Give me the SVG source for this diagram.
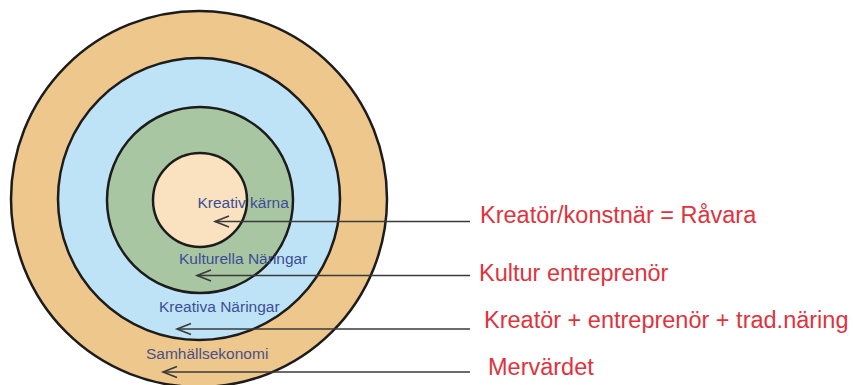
<svg xmlns="http://www.w3.org/2000/svg" width="853" height="385" viewBox="0 0 853 385">
  <style>
    .ring { stroke: #1c1c1c; stroke-width: 2.5; }
    .lbl { font-family: "Liberation Sans", Arial, sans-serif; font-size: 15.5px; fill: #3c4e96; }
    .note { font-family: "Liberation Sans", Arial, sans-serif; font-size: 23.5px; fill: #e0333d; }
    .lead { fill: none; stroke: #3a3a3a; stroke-width: 1.5; marker-end: url(#chev); }
  </style>
  <defs>
    <marker id="chev" markerUnits="userSpaceOnUse" markerWidth="18" markerHeight="14" refX="15" refY="7" orient="auto" viewBox="0 0 18 14">
      <path d="M1,1.5 L15,7 L1,12.5" fill="none" stroke="#3a3a3a" stroke-width="1.6"/>
    </marker>
  </defs>
  <rect width="853" height="385" fill="#ffffff"/>

  <!-- concentric layers, outermost first -->
  <g id="samhallsekonomi">
    <circle class="ring" cx="199" cy="199" r="188" fill="#eec78c"/>
  </g>
  <g id="kreativa-naringar">
    <circle class="ring" cx="199" cy="199" r="141" fill="#bfe3f6"/>
  </g>
  <g id="kulturella-naringar">
    <circle class="ring" cx="200" cy="200" r="93" fill="#a9c6a3"/>
  </g>
  <g id="kreativ-karna">
    <circle class="ring" cx="200" cy="200" r="47" fill="#fae2c1"/>
  </g>

  <!-- leader lines from each note back into its layer -->
  <g id="connectors">
    <path class="lead" d="M470,221.5 H215"/>
    <path class="lead" d="M470,275.5 H197"/>
    <path class="lead" d="M470,329 H177"/>
    <path class="lead" d="M470,372 H163"/>
  </g>

  <!-- layer names -->
  <g id="layer-labels">
    <text class="lbl" x="197.5" y="207.5">Kreativ kärna</text>
    <text class="lbl" x="179" y="264">Kulturella Näringar</text>
    <text class="lbl" x="159" y="312">Kreativa Näringar</text>
    <text class="lbl" x="146" y="359" style="fill:#4a4f86">Samhällsekonomi</text>
  </g>

  <!-- notes on the right -->
  <g id="notes">
    <text class="note" x="480" y="223">Kreatör/konstnär = Råvara</text>
    <text class="note" x="479" y="281">Kultur entreprenör</text>
    <text class="note" x="484" y="328">Kreatör + entreprenör + trad.näring</text>
    <text class="note" x="488" y="375">Mervärdet</text>
  </g>
</svg>
